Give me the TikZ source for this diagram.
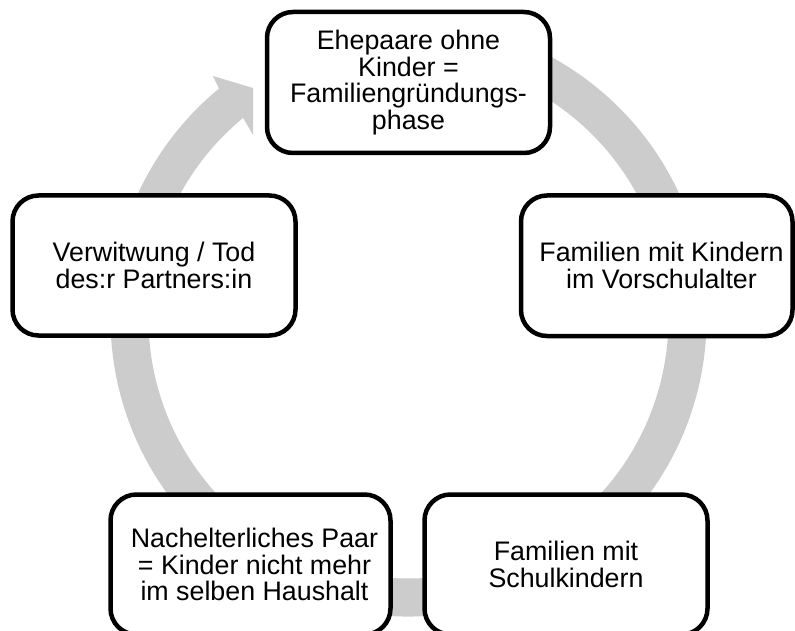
\documentclass[tikz,border=0pt]{standalone}
\usepackage{fontspec}
\setmainfont{Liberation Sans}
\definecolor{ringgray}{RGB}{204,204,204}
\tikzset{
  phasefont/.style={font=\fontsize{26.8}{26.8}\selectfont},
  phasebox/.style={draw=black, fill=white, line width=4.5pt, rounded corners=26pt,
    align=center, inner sep=0pt, phasefont},
}
\begin{document}
\begin{tikzpicture}[x=1pt,y=-1pt]
\useasboundingbox (0,0) rectangle (795,631);
\clip (0,0) rectangle (795,631);
\coordinate (C) at (408.5,318.5);
% ring with arrowhead
\fill[ringgray] ([shift={(-100:298)}]C) arc[start angle=-100, end angle=230.5, radius=298]
  -- (213,76) -- (253,88) -- (253,135) -- ([shift={(230.5:260)}]C)
  arc[start angle=230.5, end angle=-100, radius=260] -- cycle;
% boxes
\node[phasebox, minimum width=283pt, minimum height=141pt] (top) at (408.5,82.5)
  {Ehepaare ohne\\Kinder =\\Familiengründungs-\\phase};
\node[phasebox, minimum width=271.5pt, minimum height=140.5pt] (right) at (656.75,265.75) {};
\node at (661.5,265.75) [align=center, phasefont] (righttext)
  {Familien mit Kindern\\im Vorschulalter};
\node[phasebox, minimum width=283pt, minimum height=140pt] (bright) at (566,564.5)
  {Familien mit\\Schulkindern};
\node[phasebox, minimum width=280pt, minimum height=140pt] (bleft) at (250.5,564.5) {};
\node at (254.5,564.5) [align=center, phasefont] (blefttext)
  {Nachelterliches Paar\\= Kinder nicht mehr\\im selben Haushalt};
\node[phasebox, minimum width=283pt, minimum height=140pt] (left) at (154,265.5)
  {Verwitwung / Tod\\des:r Partners:in};
\end{tikzpicture}
\end{document}
